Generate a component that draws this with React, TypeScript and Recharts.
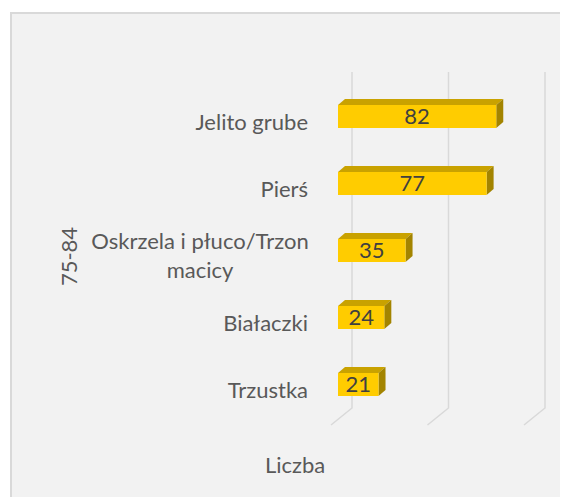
import { BarChart, Bar, XAxis, YAxis, CartesianGrid, Legend, LabelList } from 'recharts'

const categories = ['Jelito grube', 'Pierś', 'Oskrzela i płuco/Trzon macicy', 'Białaczki', 'Trzustka']
const values = [82, 77, 35, 24, 21]
const xTicks = [0, 50, 100]
const groupLabel = '75-84'
const seriesName = 'Liczba'

const data = categories.map((name, i) => ({ name, value: values[i] }))

const FONT = 'Lato, "Liberation Sans", sans-serif'
const DEPTH_X = 7
const DEPTH_Y = 6

// 3D box: front face, top face and right side, Excel-style
function Bar3D(props: any) {
  const { x, y, width, height } = props
  if (width <= 0) return null
  const dx = DEPTH_X
  const dy = DEPTH_Y
  return (
    <g>
      <path
        d={`M${x},${y} L${x + dx},${y - dy} L${x + width + dx},${y - dy} L${x + width},${y} Z`}
        fill="#c9a200"
      />
      <path
        d={`M${x + width},${y} L${x + width + dx},${y - dy} L${x + width + dx},${y + height - dy} L${x + width},${y + height} Z`}
        fill="#a38400"
      />
      <rect x={x} y={y} width={width} height={height} fill="#ffcc00" />
    </g>
  )
}

// gridline on the back wall with a slanted foot on the floor
function GridLine(props: any) {
  const { x1, y1, y2 } = props
  const bx = x1 + 2 * DEPTH_X
  const top = y1 - 11
  const bottom = y2 - 10
  return (
    <path
      key={`g-${x1}`}
      d={`M${bx},${top} L${bx},${bottom} L${bx - 3 * DEPTH_X},${bottom + 17}`}
      fill="none"
      stroke="#d9d9d9"
      strokeWidth={1.5}
    />
  )
}

function CategoryTick(props: any) {
  const { y, payload } = props
  const right = 300
  const label: string = payload.value
  if (label.length > 22) {
    const cut = label.lastIndexOf(' ')
    const lines = [label.slice(0, cut), label.slice(cut + 1)]
    return (
      <text x={right - 108} y={y} textAnchor="middle" fill="#595959" fontSize={22} fontFamily={FONT}>
        <tspan x={right - 108} y={y - 2}>{lines[0]}</tspan>
        <tspan x={right - 108} y={y + 27}>{lines[1]}</tspan>
      </text>
    )
  }
  return (
    <text x={right} y={y + 13} textAnchor="end" fill="#595959" fontSize={22} fontFamily={FONT}>
      {label}
    </text>
  )
}

function GroupLabel(props: any) {
  const { viewBox } = props
  const cx = 60
  const cy = viewBox.y + viewBox.height / 2 + 6
  return (
    <text
      x={cx}
      y={cy}
      transform={`rotate(-90 ${cx} ${cy})`}
      textAnchor="middle"
      dominantBaseline="central"
      fill="#595959"
      fontSize={22}
      fontFamily={FONT}
    >
      {groupLabel}
    </text>
  )
}

function LegendText() {
  return (
    <div style={{ height: 30, lineHeight: '30px', fontFamily: FONT, fontSize: 22, color: '#595959', paddingLeft: 257 }}>
      {seriesName}
    </div>
  )
}

export default function App() {
  return (
    <div style={{ position: 'relative', width: 560, height: 489, overflow: 'hidden' }}>
      <div
        style={{
          position: 'absolute',
          left: 2,
          top: 4,
          width: 700,
          height: 700,
          background: '#f2f2f2',
          borderLeft: '2px solid #d9d9d9',
          borderTop: '2px solid #d9d9d9',
        }}
      />
      <div style={{ position: 'absolute', left: 0, top: 0 }}>
        <BarChart
          width={560}
          height={489}
          data={data}
          layout="vertical"
          margin={{ top: 75, right: 37, bottom: 49, left: 0 }}
        >
          <CartesianGrid horizontal={false} vertical={GridLine} fill="none" />
          <XAxis type="number" domain={[0, 100]} ticks={xTicks} hide />
          <YAxis
            type="category"
            dataKey="name"
            width={330}
            axisLine={false}
            tickLine={false}
            tick={CategoryTick}
            interval={0}
            label={<GroupLabel />}
          />
          <Legend
            verticalAlign="bottom"
            content={LegendText}
            wrapperStyle={{ left: 0, width: 560, top: 442, bottom: 'auto' }}
          />
          <Bar dataKey="value" name={seriesName} barSize={23} shape={Bar3D} isAnimationActive={false}>
            <LabelList dataKey="value" position="center" fill="#404040" fontSize={22} fontFamily={FONT} />
          </Bar>
        </BarChart>
      </div>
    </div>
  )
}
